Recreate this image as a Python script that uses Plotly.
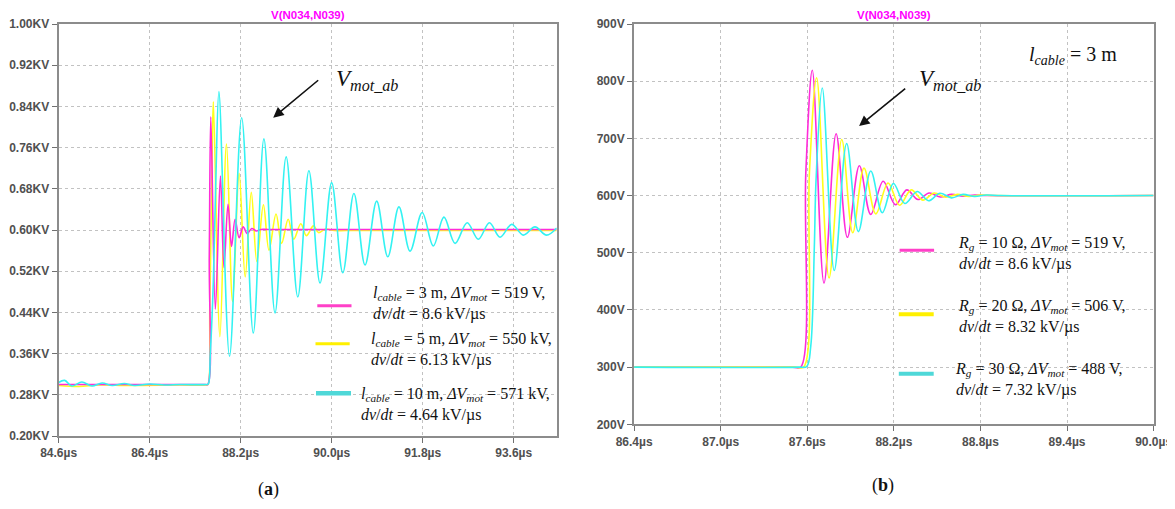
import plotly.graph_objects as go

# reference canvas and the page's default 8px body margin
W_REF, H_REF = 1175, 509
PAD = 8
W, H = W_REF - 2 * PAD, H_REF - 2 * PAD

# ---------------- panel (a): cable length ----------------
t_a_3m = [84.60, 87.50, 87.55, 87.58, 87.61, 87.70, 87.80, 87.87, 87.95, 88.02, 88.09, 88.17,
          88.25, 88.33, 88.42, 88.51, 88.60, 88.75, 94.45]
v_a_3m = [0.300, 0.300, 0.300, 0.55, 0.820, 0.446, 0.705, 0.527, 0.650, 0.568, 0.621, 0.585,
          0.606, 0.593, 0.603, 0.598, 0.601, 0.601, 0.601]

t_a_5m = [84.60, 85.00, 85.40, 86.00, 87.00, 87.52, 87.555, 87.59, 87.63, 87.66, 87.79, 87.92,
          88.04, 88.17, 88.29, 88.41, 88.52, 88.65, 88.76, 88.90, 89.01, 89.14, 89.25, 89.39,
          89.50, 89.64, 89.74, 89.88, 90.05, 90.30, 94.45]
v_a_5m = [0.298, 0.296, 0.299, 0.298, 0.299, 0.299, 0.300, 0.45, 0.70, 0.849, 0.393, 0.767,
          0.461, 0.710, 0.509, 0.673, 0.539, 0.649, 0.561, 0.631, 0.574, 0.621, 0.582, 0.612,
          0.589, 0.608, 0.595, 0.602, 0.599, 0.599, 0.599]

t_a_10m = [84.60, 84.72, 84.86, 85.06, 85.26, 85.46, 85.66, 85.90, 86.10, 86.40, 86.70, 87.00,
           87.52, 87.56, 87.60, 87.66, 87.71, 87.77, 87.98, 88.22, 88.45, 88.66, 88.88, 89.10,
           89.33, 89.55, 89.77, 90.00, 90.22, 90.44, 90.66, 90.89, 91.11, 91.33, 91.55, 91.79,
           92.01, 92.22, 92.44, 92.68, 92.90, 93.12, 93.33, 93.56, 93.79, 94.02, 94.25, 94.45]
v_a_10m = [0.304, 0.308, 0.297, 0.305, 0.297, 0.303, 0.298, 0.302, 0.298, 0.301, 0.299, 0.300,
           0.300, 0.301, 0.36, 0.50, 0.70, 0.869, 0.355, 0.818, 0.400, 0.777, 0.439, 0.742,
           0.470, 0.715, 0.497, 0.692, 0.517, 0.671, 0.532, 0.656, 0.548, 0.645, 0.559, 0.634,
           0.569, 0.625, 0.574, 0.614, 0.582, 0.614, 0.586, 0.611, 0.590, 0.606, 0.590, 0.604]

x_range_a = [84.6, 94.45]
y_range_a = [0.20, 1.00]
x_ticks_a = [84.6, 86.4, 88.2, 90.0, 91.8, 93.6]
x_ticktext_a = ["84.6µs", "86.4µs", "88.2µs", "90.0µs", "91.8µs", "93.6µs"]
y_ticks_a = [0.20, 0.28, 0.36, 0.44, 0.52, 0.60, 0.68, 0.76, 0.84, 0.92, 1.00]
y_ticktext_a = ["0.20KV", "0.28KV", "0.36KV", "0.44KV", "0.52KV", "0.60KV",
                "0.68KV", "0.76KV", "0.84KV", "0.92KV", "1.00KV"]

legend_a = [
    "<i>l</i><sub><i>cable</i></sub> = 3 m, <i>ΔV</i><sub><i>mot</i></sub> = 519 V,<br><i>dv</i>/<i>dt</i> = 8.6 kV/µs",
    "<i>l</i><sub><i>cable</i></sub> = 5 m, <i>ΔV</i><sub><i>mot</i></sub> = 550 kV,<br><i>dv</i>/<i>dt</i> = 6.13 kV/µs",
    "<i>l</i><sub><i>cable</i></sub> = 10 m, <i>ΔV</i><sub><i>mot</i></sub> = 571 kV,<br><i>dv</i>/<i>dt</i> = 4.64 kV/µs",
]

# ---------------- panel (b): gate resistance ----------------
t_b_10 = [86.40, 87.50, 87.555, 87.59, 87.635, 87.716, 87.80, 87.878, 87.961, 88.040, 88.126,
          88.211, 88.29, 88.367, 88.445, 88.523, 88.60, 88.68, 88.76, 88.85, 90.00]
v_b_10 = [300, 300, 300, 640, 819, 447, 708, 527, 652, 567, 625,
          584, 610, 593, 604.5, 597.5, 602, 599, 601, 600, 600]

t_b_20 = [86.40, 87.52, 87.575, 87.615, 87.665, 87.751, 87.839, 87.915, 87.993, 88.075, 88.16,
          88.24, 88.32, 88.40, 88.48, 88.56, 88.64, 88.72, 88.80, 88.90, 90.00]
v_b_20 = [300, 300, 300, 640, 806, 456, 698, 535, 648, 568, 622,
          583, 610, 592, 604.5, 597, 602, 598.5, 601, 600, 600]

t_b_30 = [86.40, 87.54, 87.596, 87.624, 87.649, 87.661, 87.704, 87.787, 87.873, 87.954, 88.040,
          88.120, 88.197, 88.276, 88.362, 88.44, 88.52, 88.60, 88.68, 88.76, 88.84, 88.94, 90.00]
v_b_30 = [300, 300, 301, 336, 511, 628, 788, 469, 691, 537, 643,
          570, 621, 586, 607, 591, 604, 596, 602, 598.5, 601, 600, 600]

x_range_b = [86.4, 90.0]
y_range_b = [200, 900]
x_ticks_b = [86.4, 87.0, 87.6, 88.2, 88.8, 89.4, 90.0]
x_ticktext_b = ["86.4µs", "87.0µs", "87.6µs", "88.2µs", "88.8µs", "89.4µs", "90.0µs"]
y_ticks_b = [200, 300, 400, 500, 600, 700, 800, 900]
y_ticktext_b = ["200V", "300V", "400V", "500V", "600V", "700V", "800V", "900V"]

legend_b = [
    "<i>R</i><sub><i>g</i></sub> = 10 Ω, <i>ΔV</i><sub><i>mot</i></sub> = 519 V,<br><i>dv</i>/<i>dt</i> = 8.6 kV/µs",
    "<i>R</i><sub><i>g</i></sub> = 20 Ω, <i>ΔV</i><sub><i>mot</i></sub> = 506 V,<br><i>dv</i>/<i>dt</i> = 8.32 kV/µs",
    "<i>R</i><sub><i>g</i></sub> = 30 Ω, <i>ΔV</i><sub><i>mot</i></sub> = 488 V,<br><i>dv</i>/<i>dt</i> = 7.32 kV/µs",
]

MAG, YEL, CYA = "#ff2bd9", "#ffff1a", "#33f2f2"
SW_MAG, SW_YEL, SW_CYA = "#ff40c8", "#fff000", "#4fd8d8"


def X(p):
    return (p - PAD) / W


def Y(p):
    return 1 - (p - PAD) / H


fig = go.Figure()
line_kw = dict(shape="spline", smoothing=1.0, width=1.6)
fig.add_trace(go.Scatter(x=t_a_5m, y=v_a_5m, mode="lines", name="5 m",
                         line=dict(color=YEL, **line_kw), xaxis="x", yaxis="y"))
fig.add_trace(go.Scatter(x=t_a_3m, y=v_a_3m, mode="lines", name="3 m",
                         line=dict(color=MAG, **line_kw), xaxis="x", yaxis="y"))
fig.add_trace(go.Scatter(x=t_a_10m, y=v_a_10m, mode="lines", name="10 m",
                         line=dict(color=CYA, **line_kw), xaxis="x", yaxis="y"))
fig.add_trace(go.Scatter(x=t_b_10, y=v_b_10, mode="lines", name="10 Ω",
                         line=dict(color=MAG, **line_kw), xaxis="x2", yaxis="y2"))
fig.add_trace(go.Scatter(x=t_b_20, y=v_b_20, mode="lines", name="20 Ω",
                         line=dict(color=YEL, **line_kw), xaxis="x2", yaxis="y2"))
fig.add_trace(go.Scatter(x=t_b_30, y=v_b_30, mode="lines", name="30 Ω",
                         line=dict(color=CYA, **line_kw), xaxis="x2", yaxis="y2"))

tickfont = dict(family="Liberation Sans, Arial, sans-serif", size=12, color="#505050",
                weight="bold")
axis_common = dict(showline=True, mirror=True, linecolor="#8c8c8c", linewidth=2,
                   showgrid=True, gridcolor="#c2c2c2", griddash="dot", gridwidth=1,
                   ticks="outside", ticklen=5, tickcolor="#707070", tickwidth=1,
                   tickfont=tickfont, zeroline=False, automargin=False, fixedrange=True)

fig.update_layout(
    width=W, height=H, margin=dict(l=0, r=0, t=0, b=0),
    paper_bgcolor="white", plot_bgcolor="white", showlegend=False,
    xaxis=dict(domain=[X(58.6), X(556.7)], range=x_range_a, anchor="y",
               tickvals=x_ticks_a, ticktext=x_ticktext_a, **axis_common),
    yaxis=dict(domain=[Y(436), Y(24)], range=y_range_a, anchor="x",
               tickvals=y_ticks_a, ticktext=y_ticktext_a, **axis_common),
    xaxis2=dict(domain=[X(634.1), X(1153.6)], range=x_range_b, anchor="y2",
                tickvals=x_ticks_b, ticktext=x_ticktext_b, ticklabeloverflow="allow",
                **axis_common),
    yaxis2=dict(domain=[Y(424.3), Y(24)], range=y_range_b, anchor="x2",
                tickvals=y_ticks_b, ticktext=y_ticktext_b, **axis_common),
)

serif = "Liberation Serif, Times New Roman, serif"
ann = []
shapes = []

# titles
for cx in (307.6, 893.9):
    ann.append(dict(x=X(cx), y=Y(15), xref="paper", yref="paper", showarrow=False,
                    text="<b>V(N034,N039)</b>", xanchor="center", yanchor="middle",
                    font=dict(family="Liberation Sans, Arial", size=11.5, color="#ff00ff")))

# V_mot_ab labels and arrows
for (tx, ty, hx, hy, sx, sy) in [(334.0, 80, 273.2, 117.7, 319.7, 79.0),
                                 (917.0, 80, 859.1, 126.0, 906.7, 87.3)]:
    ann.append(dict(x=X(tx), y=Y(ty), xref="paper", yref="paper", showarrow=False,
                    text="<i>V</i><sub><i>mot_ab</i></sub>", xanchor="left", yanchor="middle",
                    font=dict(family=serif, size=23, color="#111111")))
    ann.append(dict(x=X(hx), y=Y(hy), xref="paper", yref="paper", text="",
                    showarrow=True, arrowhead=2, arrowsize=1.3, arrowwidth=1.6,
                    arrowcolor="#111111", ax=sx - hx, ay=sy - hy))

# l_cable = 3 m
ann.append(dict(x=X(1027), y=Y(55), xref="paper", yref="paper", showarrow=False,
                text="<i>l</i><sub><i>cable</i></sub> = 3 m", xanchor="left", yanchor="middle",
                font=dict(family=serif, size=20, color="#111111")))

# legend entries panel (a)
leg_a_pos = [(317.3, 351.5, 305.7, 371.0, 303.0, SW_MAG, 3),
             (315.5, 349.7, 343.7, 369.0, 349.7, SW_YEL, 3),
             (316.0, 351.0, 393.3, 358.5, 404.5, SW_CYA, 4.5)]
for (x0, x1, ly, tx, ty, c, w), txt in zip(leg_a_pos, legend_a):
    shapes.append(dict(type="line", xref="paper", yref="paper", x0=X(x0), x1=X(x1),
                       y0=Y(ly), y1=Y(ly), line=dict(color=c, width=w)))
    ann.append(dict(x=X(tx), y=Y(ty), xref="paper", yref="paper", showarrow=False,
                    text=txt, xanchor="left", yanchor="middle", align="left",
                    font=dict(family=serif, size=16, color="#111111")))

# legend entries panel (b)
leg_b_pos = [(899.6, 934.1, 250.3, 956.3, 253.0, SW_MAG, 3),
             (898.8, 933.7, 314.3, 956.3, 316.2, SW_YEL, 4),
             (898.8, 933.7, 373.7, 953.3, 379.7, SW_CYA, 4)]
for (x0, x1, ly, tx, ty, c, w), txt in zip(leg_b_pos, legend_b):
    shapes.append(dict(type="line", xref="paper", yref="paper", x0=X(x0), x1=X(x1),
                       y0=Y(ly), y1=Y(ly), line=dict(color=c, width=w)))
    ann.append(dict(x=X(tx), y=Y(ty), xref="paper", yref="paper", showarrow=False,
                    text=txt, xanchor="left", yanchor="middle", align="left",
                    font=dict(family=serif, size=16, color="#111111")))

# panel labels
ann.append(dict(x=X(268), y=Y(489), xref="paper", yref="paper", showarrow=False,
                text="(<b>a</b>)", xanchor="center", yanchor="middle",
                font=dict(family=serif, size=18, color="#111111")))
ann.append(dict(x=X(883), y=Y(485), xref="paper", yref="paper", showarrow=False,
                text="(<b>b</b>)", xanchor="center", yanchor="middle",
                font=dict(family=serif, size=18, color="#111111")))

fig.update_layout(annotations=ann, shapes=shapes)
fig.write_html("out.html")
